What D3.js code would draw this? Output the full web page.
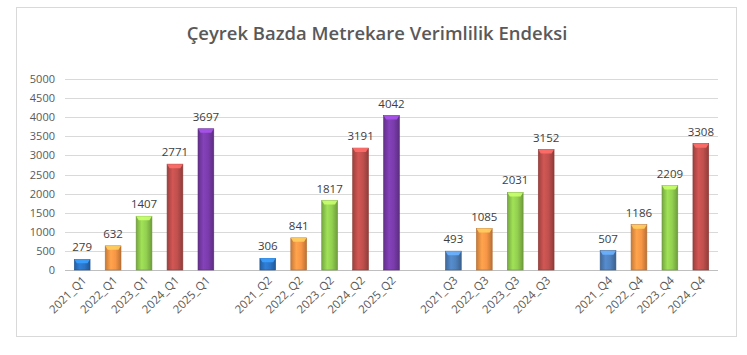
<!DOCTYPE html>
<html><head><meta charset="utf-8">
<script src="https://cdn.jsdelivr.net/npm/d3@7"></script>
<style>body{margin:0;background:#fff;} svg{display:block;}</style>
</head><body>
<svg id="c" width="747" height="355"></svg>
<script>
const title = "Çeyrek Bazda Metrekare Verimlilik Endeksi";
const categories = ["2021_Q1","2022_Q1","2023_Q1","2024_Q1","2025_Q1","",
  "2021_Q2","2022_Q2","2023_Q2","2024_Q2","2025_Q2","",
  "2021_Q3","2022_Q3","2023_Q3","2024_Q3","",
  "2021_Q4","2022_Q4","2023_Q4","2024_Q4"];
const values = [279,632,1407,2771,3697,null,
  306,841,1817,3191,4042,null,
  493,1085,2031,3152,null,
  507,1186,2209,3308];
const yTicks = [0,500,1000,1500,2000,2500,3000,3500,4000,4500,5000];
const yearColors = {"2021":"#2b74c6","2022":"#f79646","2023":"#92cf50","2024":"#c0504d","2025":"#7a3cab"};
const blueLate = "#4f81bd";

const svg = d3.select("#c");
const defs = svg.append("defs");
svg.append("rect").attr("x",16.5).attr("y",7.5).attr("width",720).attr("height",329)
  .attr("fill","#fff").attr("stroke","#d9d9d9");

const t = svg.append("text").attr("x",377).attr("y",40).attr("text-anchor","middle")
  .attr("font-family","'Open Sans', sans-serif").attr("font-weight",600)
  .attr("font-size",20).attr("fill","#595959").text(title);
const tw = t.node().getComputedTextLength();
t.attr("font-size", 20*381/tw);

const x = d3.scaleBand().domain(d3.range(categories.length)).range([65,718]).paddingInner(0.49).paddingOuter(0.3);
const y = d3.scaleLinear().domain([0,5000]).range([270,79]);

const grid = svg.append("g");
grid.selectAll("line").data(yTicks).join("line")
  .attr("x1",65).attr("x2",718).attr("y1",d=>Math.round(y(d))+0.5).attr("y2",d=>Math.round(y(d))+0.5)
  .attr("stroke",d=>d===0?"#bfbfbf":"#d9d9d9").attr("stroke-width",1);

const yAxis = d3.axisLeft(y).tickValues(yTicks).tickFormat(d3.format("d")).tickSize(0).tickPadding(10);
const ga = svg.append("g").attr("transform","translate(65,0)").call(yAxis);
ga.select(".domain").remove();
ga.selectAll("text").attr("font-family","'Open Sans', sans-serif").attr("font-size",11).attr("fill","#595959");

function colorOf(i){
  const c = categories[i];
  const yr = c.slice(0,4);
  if (yr==="2021" && (c.endsWith("Q3")||c.endsWith("Q4"))) return blueLate;
  return yearColors[yr];
}

const bars = categories.map((c,i)=>({c,i,v:values[i]})).filter(d=>d.v!=null);
bars.forEach(d=>{
  const col = d3.color(colorOf(d.i));
  const g = defs.append("linearGradient").attr("id","g"+d.i).attr("x1","0").attr("x2","1").attr("y1","0").attr("y2","0");
  g.append("stop").attr("offset","0%").attr("stop-color",col.darker(0.6));
  g.append("stop").attr("offset","35%").attr("stop-color",col.brighter(0.25));
  g.append("stop").attr("offset","65%").attr("stop-color",col);
  g.append("stop").attr("offset","100%").attr("stop-color",col.darker(0.8));
});

const bg = svg.append("g");
bg.selectAll("rect.bar").data(bars).join("rect").attr("class","bar")
  .attr("x",d=>x(d.i)).attr("width",x.bandwidth())
  .attr("y",d=>y(d.v)).attr("height",d=>y(0)-y(d.v))
  .attr("fill",d=>"url(#g"+d.i+")")
  .attr("stroke",d=>d3.color(colorOf(d.i)).darker(0.9)).attr("stroke-width",0.6);
bg.selectAll("path.cap").data(bars).join("path").attr("class","cap")
  .attr("d",d=>{const x0=x(d.i), w=x.bandwidth(), yt=y(d.v);
    return `M${x0},${yt}L${x0+w},${yt}L${x0+w-2.5},${yt+4}L${x0+2.5},${yt+4}Z`;})
  .attr("fill",d=>d3.color(colorOf(d.i)).brighter(0.9)).attr("opacity",0.9);

svg.append("g").selectAll("text").data(bars).join("text")
  .attr("x",d=>x(d.i)+x.bandwidth()/2).attr("y",d=>y(d.v)-8)
  .attr("text-anchor","middle").attr("font-family","'Open Sans', sans-serif")
  .attr("font-size",11.5).attr("fill","#404040").text(d=>d.v);

svg.append("g").selectAll("text").data(bars).join("text")
  .attr("transform",d=>`translate(${x(d.i)+x.bandwidth()/2+5},${281}) rotate(-45)`)
  .attr("text-anchor","end").attr("font-family","'Open Sans', sans-serif")
  .attr("font-size",11.5).attr("fill","#595959").text(d=>d.c);
</script>
</body></html>
